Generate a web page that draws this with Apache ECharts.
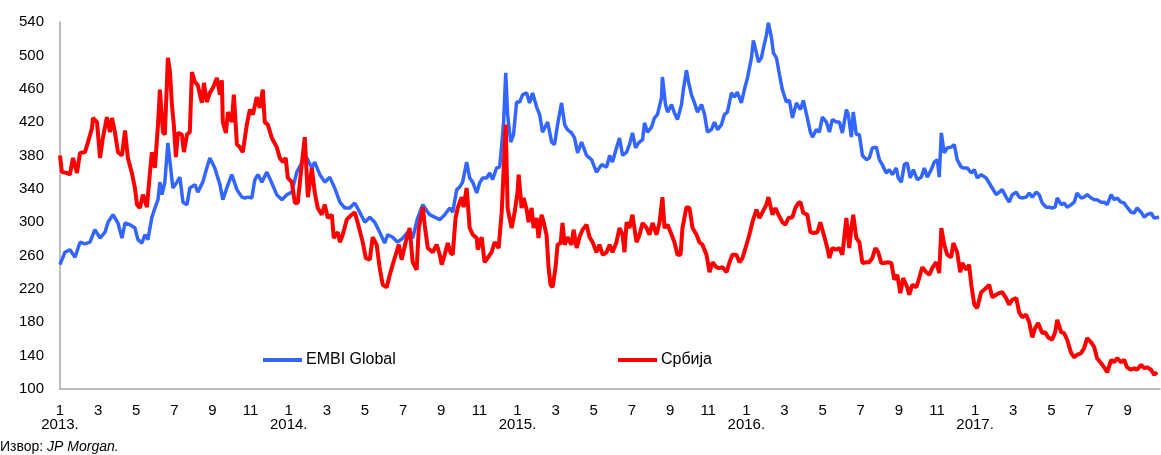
<!DOCTYPE html>
<html>
<head>
<meta charset="utf-8">
<script src="https://cdn.jsdelivr.net/npm/echarts@6/dist/echarts.min.js"></script>
<style>
  html, body { margin: 0; padding: 0; background: #fff; }
  #chart { width: 1161px; height: 455px; }
</style>
</head>
<body>
<div id="chart"></div>
<script>
// x in months since Jan 2013 (0 = 1/2013), y in basis points
const embiMonths = [0.00,0.26,0.52,0.79,1.05,1.31,1.57,1.83,2.10,2.36,2.52,2.78,3.04,3.25,3.41,3.67,3.93,4.09,4.30,4.45,4.61,4.82,4.98,5.14,5.24,5.35,5.50,5.66,5.77,5.92,6.13,6.29,6.45,6.66,6.81,7.08,7.23,7.49,7.70,7.86,8.12,8.39,8.54,8.75,9.01,9.28,9.54,9.70,9.85,10.06,10.22,10.38,10.59,10.85,11.11,11.37,11.64,11.90,12.16,12.42,12.68,12.95,13.21,13.36,13.63,13.89,14.15,14.41,14.68,14.94,15.20,15.46,15.72,15.99,16.25,16.51,16.77,17.03,17.19,17.45,17.71,17.98,18.24,18.50,18.76,19.03,19.29,19.39,19.65,19.92,20.18,20.44,20.60,20.81,20.96,21.12,21.33,21.49,21.65,21.86,22.01,22.17,22.38,22.54,22.69,22.90,23.06,23.17,23.27,23.38,23.48,23.64,23.79,23.95,24.11,24.27,24.48,24.63,24.79,25.00,25.16,25.31,25.58,25.79,25.94,26.10,26.31,26.47,26.62,26.83,26.99,27.15,27.36,27.62,27.88,28.14,28.41,28.67,28.83,28.98,29.19,29.35,29.51,29.72,29.87,30.03,30.19,30.35,30.56,30.66,30.82,31.03,31.18,31.34,31.55,31.60,31.76,31.87,32.08,32.23,32.39,32.60,32.70,32.86,32.97,33.12,33.28,33.44,33.65,33.81,33.96,34.17,34.33,34.49,34.70,34.85,35.01,35.22,35.38,35.53,35.74,35.90,36.06,36.27,36.37,36.53,36.64,36.79,36.90,37.05,37.16,37.32,37.42,37.58,37.74,37.89,38.10,38.26,38.42,38.63,38.84,38.99,39.20,39.36,39.47,39.67,39.83,39.99,40.20,40.36,40.51,40.72,40.88,41.04,41.25,41.35,41.51,41.61,41.77,41.93,42.09,42.30,42.45,42.61,42.82,42.98,43.13,43.34,43.50,43.66,43.87,43.97,44.13,44.29,44.44,44.60,44.76,44.97,45.18,45.34,45.49,45.70,45.86,46.02,46.12,46.23,46.38,46.54,46.75,46.91,47.06,47.27,47.43,47.59,47.80,47.96,48.11,48.32,48.58,48.74,48.90,49.11,49.27,49.42,49.63,49.79,49.95,50.16,50.31,50.47,50.68,50.84,51.00,51.21,51.36,51.52,51.73,51.89,52.04,52.20,52.31,52.52,52.67,52.83,53.04,53.20,53.35,53.56,53.72,53.88,54.09,54.25,54.40,54.61,54.77,54.93,55.14,55.29,55.45,55.66,55.82,55.97,56.18,56.34,56.50,56.71,56.87,57.02,57.23,57.39,57.65];
const embiValues = [249,264,267,258,276,274,276,291,281,288,300,309,299,281,299,297,293,279,275,285,279,306,317,327,348,333,348,395,372,341,348,354,324,321,341,345,336,348,365,377,365,345,327,341,357,339,330,329,330,329,351,357,348,360,347,333,327,333,336,360,371,377,365,372,357,348,354,341,324,317,317,323,312,300,306,300,288,275,285,282,276,281,288,281,305,321,312,309,306,303,309,317,312,339,342,348,372,353,348,335,347,353,353,359,351,365,366,393,420,479,429,396,405,444,444,453,455,443,455,438,429,408,420,396,393,417,443,417,411,407,401,383,396,380,375,360,369,366,380,372,389,401,380,384,393,407,389,395,399,419,408,414,425,429,449,474,441,432,441,431,423,441,459,482,468,453,443,432,441,429,408,411,420,411,417,429,432,455,450,456,443,459,473,497,518,503,492,497,509,524,539,521,503,497,477,459,444,446,425,443,435,446,425,408,402,411,408,426,420,408,423,420,420,407,435,429,402,432,405,405,380,375,377,389,390,375,369,359,363,357,365,353,348,369,371,353,363,351,354,365,354,363,372,375,354,407,383,389,390,393,375,366,365,365,359,363,353,357,353,347,341,333,336,339,330,324,333,336,330,329,330,335,330,336,333,323,318,318,317,318,329,321,323,318,321,324,335,329,330,333,329,327,327,324,324,321,333,327,329,324,323,318,312,311,317,312,306,309,311,305,306];

const srbMonths = [0.00,0.10,0.37,0.52,0.68,0.89,1.05,1.31,1.47,1.68,1.73,1.94,2.10,2.25,2.46,2.62,2.73,2.88,3.04,3.25,3.41,3.56,3.77,3.93,4.04,4.19,4.35,4.56,4.72,4.82,4.98,5.14,5.24,5.40,5.50,5.66,5.77,5.87,5.97,6.08,6.18,6.39,6.50,6.66,6.81,6.92,7.08,7.23,7.44,7.55,7.70,7.86,8.02,8.23,8.39,8.49,8.54,8.70,8.81,9.01,9.12,9.28,9.43,9.59,9.80,9.96,10.12,10.32,10.48,10.64,10.74,10.90,11.11,11.37,11.53,11.69,11.84,11.95,12.16,12.32,12.47,12.68,12.84,13.00,13.21,13.36,13.52,13.73,13.89,14.05,14.26,14.36,14.57,14.68,14.83,15.04,15.30,15.46,15.62,15.88,16.04,16.25,16.40,16.61,16.77,16.93,17.14,17.30,17.45,17.61,17.77,17.92,18.13,18.34,18.50,18.71,18.82,19.03,19.13,19.29,19.55,19.76,19.92,20.02,20.18,20.34,20.49,20.60,20.75,20.86,21.07,21.17,21.33,21.49,21.65,21.86,21.91,22.12,22.27,22.43,22.64,22.80,23.01,23.17,23.27,23.38,23.48,23.58,23.69,23.85,24.00,24.06,24.21,24.32,24.48,24.58,24.74,24.84,25.00,25.10,25.26,25.37,25.52,25.63,25.73,25.84,25.99,26.10,26.26,26.36,26.47,26.62,26.83,26.94,27.10,27.25,27.41,27.62,27.78,27.94,28.14,28.30,28.46,28.67,28.83,28.98,29.19,29.35,29.51,29.61,29.72,29.87,30.03,30.24,30.40,30.56,30.77,30.92,31.08,31.29,31.45,31.60,31.71,31.87,32.08,32.23,32.39,32.55,32.65,32.86,33.02,33.18,33.39,33.54,33.70,33.91,34.07,34.23,34.43,34.59,34.75,34.96,35.12,35.27,35.48,35.64,35.80,36.01,36.16,36.32,36.53,36.69,36.85,37.05,37.16,37.37,37.53,37.68,37.89,38.05,38.21,38.42,38.57,38.73,38.84,38.99,39.20,39.36,39.52,39.73,39.88,40.04,40.25,40.36,40.51,40.72,40.88,41.04,41.25,41.40,41.51,41.61,41.77,41.93,42.09,42.30,42.45,42.61,42.77,42.92,43.08,43.24,43.40,43.61,43.76,43.92,44.08,44.23,44.44,44.55,44.71,44.92,45.07,45.23,45.44,45.60,45.75,45.96,46.12,46.23,46.38,46.54,46.75,46.86,47.06,47.22,47.33,47.54,47.69,47.80,47.96,48.11,48.32,48.58,48.74,48.90,49.11,49.27,49.42,49.63,49.79,49.95,50.16,50.31,50.47,50.68,50.84,51.00,51.15,51.31,51.52,51.68,51.83,52.04,52.20,52.31,52.52,52.67,52.83,53.04,53.20,53.35,53.56,53.72,53.88,54.09,54.25,54.40,54.61,54.77,54.93,55.14,55.29,55.45,55.66,55.82,55.97,56.18,56.34,56.50,56.71,56.87,57.02,57.23,57.39,57.55];
const srbValues = [380,360,359,357,377,359,383,384,396,413,425,420,377,401,426,408,425,408,384,380,410,377,359,341,321,317,333,318,360,384,365,417,459,408,405,497,480,441,417,378,407,405,384,405,408,480,468,464,443,467,444,455,461,473,453,470,420,407,432,420,453,393,390,384,417,435,429,450,437,459,420,417,401,390,377,372,377,353,348,323,323,369,402,330,365,336,317,309,321,305,309,281,288,276,285,303,309,312,299,276,257,255,282,273,245,225,222,237,249,261,273,255,276,293,252,243,293,318,297,269,264,273,261,249,261,275,263,261,305,317,330,318,341,293,285,281,267,282,252,257,264,276,269,312,312,417,317,305,293,312,336,357,317,329,315,300,317,293,305,281,309,300,285,245,225,222,245,273,275,299,273,282,273,291,269,282,291,297,282,276,264,273,261,264,273,264,276,293,285,264,300,293,309,276,285,299,293,285,299,285,300,330,293,297,285,276,261,261,293,318,317,293,285,276,273,261,240,252,246,245,246,240,252,261,261,252,257,273,285,300,315,305,312,321,330,309,317,309,300,297,305,306,317,323,324,311,309,288,287,288,300,287,269,257,269,267,269,261,305,269,293,309,281,276,251,252,252,257,269,264,251,251,252,251,231,237,215,233,222,213,225,222,233,246,240,237,245,252,239,293,273,261,258,275,264,240,251,243,249,225,201,197,216,221,225,210,213,215,216,209,201,207,209,192,186,189,180,162,173,179,167,168,162,159,168,183,168,167,159,143,138,141,143,149,161,156,150,137,131,126,120,135,132,137,132,135,126,123,125,123,129,125,126,123,117,120];

const yTicks = [100, 540, 40]; // min, max, step
const startYear = 2013;
const seriesNames = ['EMBI Global', 'Србија'];

const zip = (xs, ys) => xs.map((x, i) => [x, ys[i]]);
const font = 'Liberation Sans, Arial, sans-serif';

const chart = echarts.init(document.getElementById('chart'));
chart.setOption({
  animation: false,
  backgroundColor: '#fff',
  textStyle: { fontFamily: font },
  grid: { left: 60, right: 1, top: 22, bottom: 66 },
  legend: [
    {
      data: [{ name: seriesNames[0] }],
      left: 263, top: 352, padding: 0,
      icon: 'rect', itemWidth: 39, itemHeight: 4,
      textStyle: { fontSize: 16, color: '#000', fontFamily: font, padding: [0, 0, 0, -1] }
    },
    {
      data: [{ name: seriesNames[1] }],
      left: 618, top: 352, padding: 0,
      icon: 'rect', itemWidth: 39, itemHeight: 4,
      textStyle: { fontSize: 16, color: '#000', fontFamily: font, padding: [0, 0, 0, -1] }
    }
  ],
  xAxis: {
    type: 'value',
    min: 0,
    max: 57.7,
    interval: 1,
    splitLine: { show: false },
    axisTick: { show: false },
    axisLine: { lineStyle: { color: '#a6a6a6', width: 1.5 } },
    axisLabel: {
      showMaxLabel: false,
      margin: 15,
      fontSize: 15,
      color: '#000',
      lineHeight: 14,
      formatter: function (v) {
        if (Math.round(v) !== v || v % 2 !== 0) return '';
        const m = v % 12 + 1;
        if (m === 1) return '1\n' + (startYear + v / 12) + '.';
        return String(m);
      }
    }
  },
  yAxis: {
    type: 'value',
    min: yTicks[0],
    max: yTicks[1],
    interval: yTicks[2],
    splitLine: { show: false },
    axisTick: { show: false },
    axisLine: { show: true, lineStyle: { color: '#a6a6a6', width: 1.5 } },
    axisLabel: { fontSize: 15, color: '#000', margin: 16 }
  },
  graphic: [{
    type: 'text',
    left: 0, top: 440,
    style: {
      text: '{a|Извор: }{b|JP Morgan.}',
      rich: {
        a: { fontSize: 14, fill: '#000', fontFamily: font },
        b: { fontSize: 14, fill: '#000', fontStyle: 'italic', fontFamily: font }
      }
    }
  }],
  series: [
    {
      name: seriesNames[0],
      type: 'line',
      showSymbol: false,
      color: '#3366FF',
      lineStyle: { width: 3.5, color: '#3366FF' },
      data: zip(embiMonths, embiValues)
    },
    {
      name: seriesNames[1],
      type: 'line',
      showSymbol: false,
      color: '#FF0000',
      lineStyle: { width: 4, color: '#FF0000' },
      data: zip(srbMonths, srbValues)
    }
  ]
});
</script>
</body>
</html>
